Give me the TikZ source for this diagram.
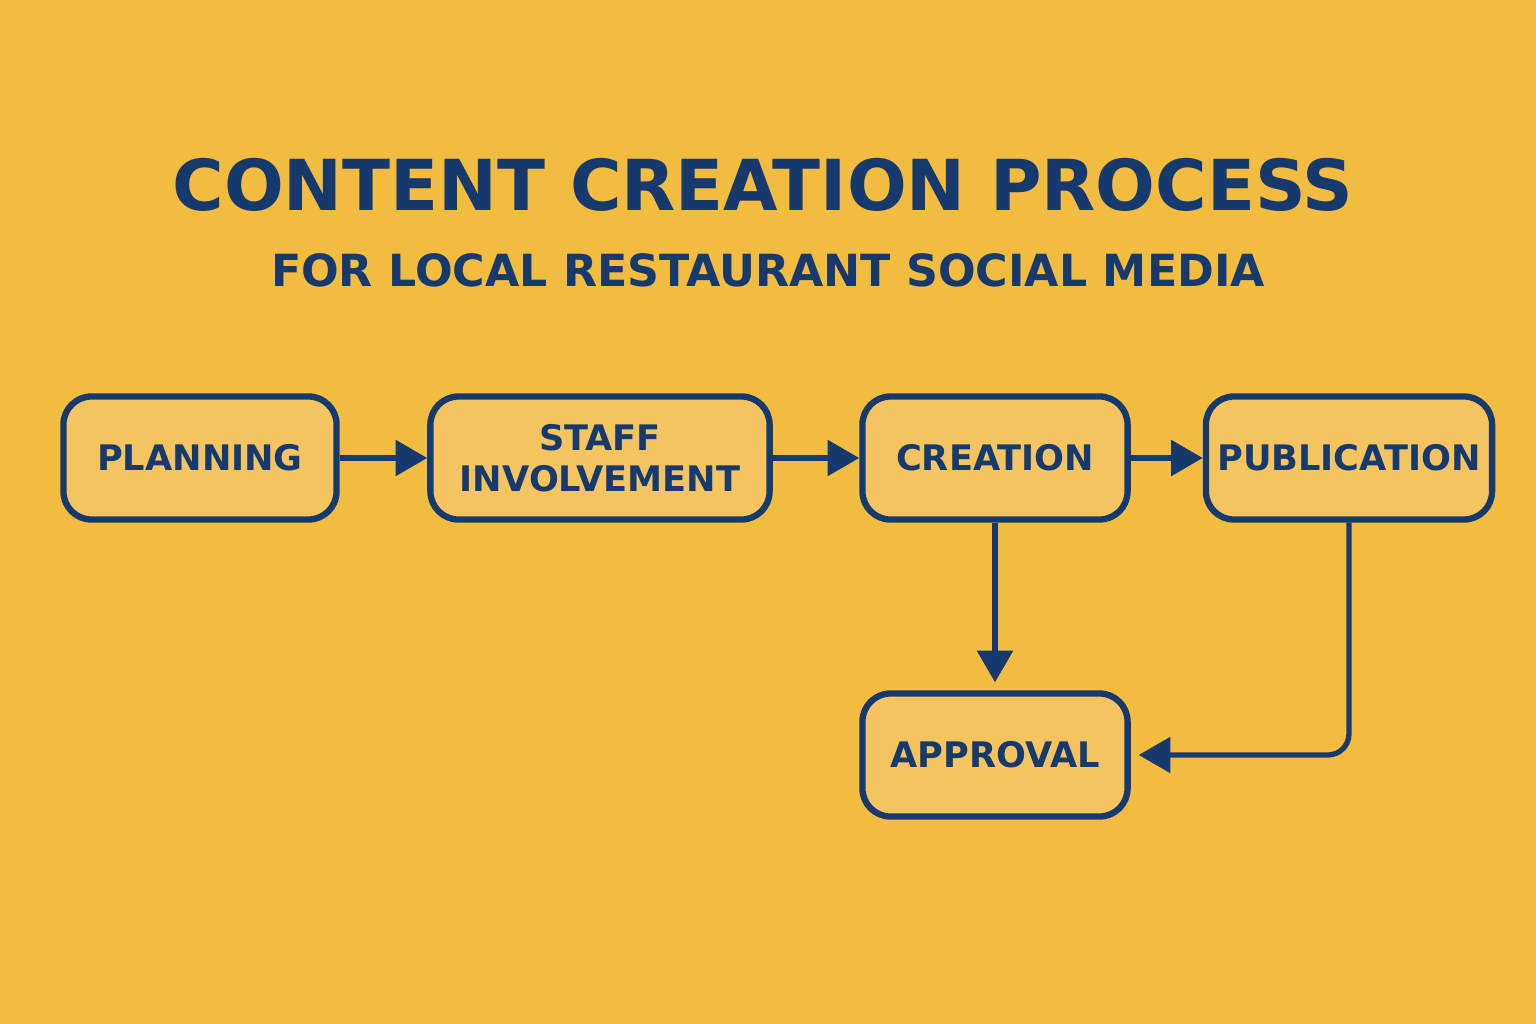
\documentclass[tikz,border=0pt]{standalone}
\usepackage{fontspec}
\setmainfont{DejaVu Sans}
\usepackage{tikz}
\usetikzlibrary{arrows.meta,positioning}
\definecolor{bgyellow}{HTML}{F2BC40}
\definecolor{boxfill}{HTML}{F3C460}
\definecolor{navy}{HTML}{173A6E}

\begin{document}
\begin{tikzpicture}[
    x=0.01cm, y=-0.01cm,
    stepbox/.style={rectangle, rounded corners=8pt, draw=navy, line width=1.8pt, fill=boxfill,
        align=center, text=navy, font=\bfseries\fontsize{10}{11.5}\selectfont, inner sep=0pt,
        minimum height=1.23cm},
    flow/.style={draw=navy, line width=1.5pt, -{Triangle[length=9pt,width=10pt]}}
]

% Background
\fill[bgyellow] (0,0) rectangle (1536,1024);

% Titles
\node[text=navy, font=\bfseries\fontsize{20}{24}\selectfont] (title) at (763,185) {CONTENT CREATION PROCESS};
\node[text=navy, font=\bfseries\fontsize{12.6}{15}\selectfont] (subtitle) at (768,270) {FOR LOCAL RESTAURANT SOCIAL MEDIA};

% Steps
\node[stepbox, minimum width=2.73cm] (planning) at (200,458) {PLANNING};
\node[stepbox, minimum width=3.39cm] (staff) at (600,458) {STAFF\\INVOLVEMENT};
\node[stepbox, minimum width=2.65cm] (creation) at (995,458) {CREATION};
\node[stepbox, minimum width=2.86cm] (publication) at (1349,458) {PUBLICATION};
\node[stepbox, minimum width=2.65cm] (approval) at (995,755) {APPROVAL};

% Connectors
\draw[flow] (planning) -- (staff);
\draw[flow] (staff) -- (creation);
\draw[flow] (creation) -- ([yshift=0.08cm]approval.north);
\draw[flow] (creation) -- (publication);
\coordinate (bend) at (publication.south |- approval.east);
\draw[flow, rounded corners=6pt] (publication.south) -- (bend) -- ([xshift=0.08cm]approval.east);

\end{tikzpicture}
\end{document}
